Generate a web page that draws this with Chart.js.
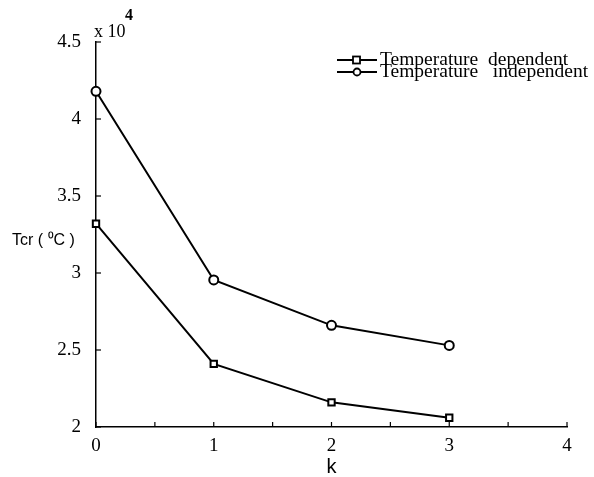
<!DOCTYPE html>
<html>
<head>
<meta charset="utf-8">
<title>Tcr vs k</title>
<script src="https://cdn.jsdelivr.net/npm/chart.js@4.4.1/dist/chart.umd.min.js"></script>
<style>
    html, body { margin: 0; padding: 0; background: #fff; }
    #wrap { width: 594px; height: 477px; position: relative; }
</style>
</head>
<body>
<div id="wrap"><canvas id="tcrChart"></canvas></div>
<script>
// k values and critical temperature (units of 10^4 °C)
const kValues = [0, 1, 2, 3];
const tempDependent = [3.32, 2.41, 2.16, 2.06];
const tempIndependent = [4.18, 2.955, 2.66, 2.53];

const seriesLabels = ['Temperature  dependent', 'Temperature   independent'];
const seriesMarkers = ['rect', 'circle'];

const xRange = [0, 4];
const yRange = [2, 4.5];
const minorStep = 0.5;

const serif = "'Liberation Serif', 'Times New Roman', serif";
const sans = "'Liberation Sans', Arial, sans-serif";

// Inward tick marks, axis titles, exponent and the line+marker legend
const decorations = {
    id: 'decorations',
    afterDraw(chart) {
        const { ctx, chartArea, scales } = chart;
        const xs = scales.x, ys = scales.y;
        ctx.save();
        ctx.strokeStyle = '#000';
        ctx.lineWidth = 1.2;

        for (let v = xRange[0]; v <= xRange[1] + 1e-9; v += minorStep) {
            const px = xs.getPixelForValue(v);
            ctx.beginPath();
            ctx.moveTo(px, chartArea.bottom);
            ctx.lineTo(px, chartArea.bottom - 5);
            ctx.stroke();
        }
        for (let v = yRange[0]; v <= yRange[1] + 1e-9; v += minorStep) {
            const py = ys.getPixelForValue(v);
            ctx.beginPath();
            ctx.moveTo(chartArea.left, py);
            ctx.lineTo(chartArea.left + 5, py);
            ctx.stroke();
        }

        ctx.fillStyle = '#000';
        ctx.textBaseline = 'middle';

        // exponent above the y axis
        ctx.font = '18px ' + serif;
        ctx.textAlign = 'left';
        ctx.fillText('x 10', chartArea.left - 2, 32);
        ctx.font = 'bold 16px ' + serif;
        ctx.fillText('4', chartArea.left + 29, 16);

        // axis titles
        ctx.font = '16px ' + sans;
        ctx.fillText('Tcr ( \u2070C )', 12, 241);
        ctx.font = '20px ' + sans;
        ctx.textAlign = 'center';
        ctx.fillText('k', xs.getPixelForValue(2), 467);

        // legend
        const rows = [60, 72];
        chart.data.datasets.forEach((ds, i) => {
            const y = rows[i];
            ctx.lineWidth = 2;
            ctx.beginPath();
            ctx.moveTo(337, y);
            ctx.lineTo(377, y);
            ctx.stroke();
            ctx.fillStyle = '#fff';
            ctx.lineWidth = 1.8;
            if (seriesMarkers[i] === 'rect') {
                ctx.fillRect(353, y - 3.5, 7, 7);
                ctx.strokeRect(353, y - 3.5, 7, 7);
            } else {
                ctx.beginPath();
                ctx.arc(357, y, 3.5, 0, Math.PI * 2);
                ctx.fill();
                ctx.stroke();
            }
            ctx.fillStyle = '#000';
            ctx.textAlign = 'left';
            ctx.font = '19.5px ' + serif;
            ctx.fillText(ds.label, 380, y);
        });
        ctx.restore();
    }
};

function makeDataset(label, values, marker) {
    return {
        label: label,
        data: kValues.map((k, i) => ({ x: k, y: values[i] })),
        borderColor: '#000',
        borderWidth: 2,
        backgroundColor: '#fff',
        pointStyle: marker,
        pointRadius: 4.5,
        pointBorderWidth: 2,
        pointBorderColor: '#000',
        pointBackgroundColor: '#fff',
        tension: 0,
        clip: false
    };
}

new Chart(document.getElementById('tcrChart'), {
    type: 'line',
    data: {
        datasets: [
            makeDataset(seriesLabels[0], tempDependent, seriesMarkers[0]),
            makeDataset(seriesLabels[1], tempIndependent, seriesMarkers[1])
        ]
    },
    options: {
        responsive: true,
        maintainAspectRatio: false,
        animation: false,
        layout: { padding: { left: 0, top: 42, right: 27, bottom: 0 } },
        plugins: {
            legend: { display: false },
            tooltip: { enabled: false }
        },
        scales: {
            x: {
                type: 'linear',
                min: xRange[0],
                max: xRange[1],
                grid: { display: false },
                border: { display: true, color: '#000', width: 1.5 },
                ticks: {
                    stepSize: 1,
                    padding: 0,
                    color: '#000',
                    font: { family: serif, size: 19 }
                },
                afterFit(scale) { scale.height = 50; }
            },
            y: {
                min: yRange[0],
                max: yRange[1],
                grid: { display: false },
                border: { display: true, color: '#000', width: 1.5 },
                ticks: {
                    stepSize: minorStep,
                    padding: 7,
                    color: '#000',
                    font: { family: serif, size: 19 },
                    callback: (v) => String(+v.toFixed(1))
                },
                afterFit(scale) { scale.width = 96; }
            }
        }
    },
    plugins: [decorations]
});
</script>
</body>
</html>
